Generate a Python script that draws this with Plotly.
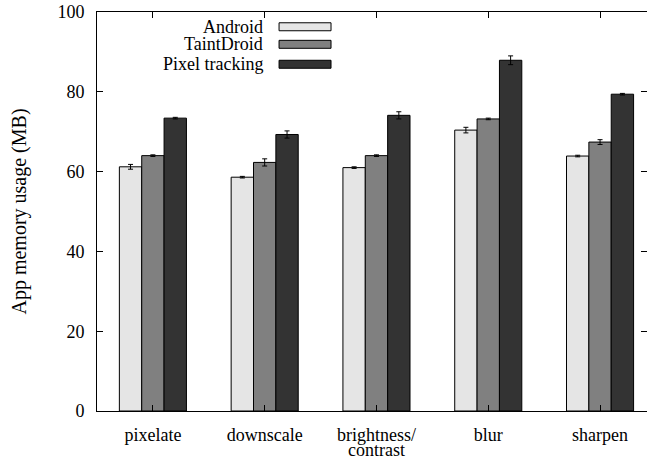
import plotly.graph_objects as go

categories = ["pixelate", "downscale", "brightness/\ncontrast", "blur", "sharpen"]
series_names = ["Android", "TaintDroid", "Pixel tracking"]
android = [61.2, 58.6, 61.0, 70.4, 63.9]
android_err = [0.6, 0.2, 0.2, 0.7, 0.2]
taintdroid = [64.0, 62.3, 64.0, 73.2, 67.4]
taintdroid_err = [0.2, 0.9, 0.2, 0.2, 0.6]
pixel = [73.4, 69.3, 74.1, 87.9, 79.4]
pixel_err = [0.2, 0.9, 0.9, 1.1, 0.2]
colors = ["#e5e5e5", "#808080", "#333333"]
y_ticks = [0, 20, 40, 60, 80, 100]

FONT = "Liberation Serif"
FS = 18
xs = list(range(len(categories)))
fig = go.Figure()
for name, vals, errs, col in zip(series_names, [android, taintdroid, pixel],
                                 [android_err, taintdroid_err, pixel_err], colors):
    fig.add_trace(go.Bar(
        x=xs, y=vals, name=name,
        marker=dict(color=col, line=dict(color="black", width=1)),
        error_y=dict(type="data", array=errs, visible=True, color="black",
                     thickness=1, width=2.5),
        showlegend=False,
    ))

first_lines = [c.split("\n")[0] for c in categories]

fig.update_layout(
    width=647, height=459,
    margin=dict(l=97, r=0, t=12, b=48),
    barmode="group", bargap=0.4, bargroupgap=0,
    plot_bgcolor="white", paper_bgcolor="white",
    font=dict(family=FONT, size=FS, color="black"),
    xaxis=dict(
        range=[-0.5, 4.42], tickmode="array",
        tickvals=xs, ticktext=first_lines,
        ticks="inside", ticklen=6, tickcolor="black", tickwidth=1,
        showline=True, linecolor="black", linewidth=1, mirror="ticks",
        showgrid=False, zeroline=False, ticklabelstandoff=7,
        tickfont=dict(family=FONT, size=FS), automargin=False,
    ),
    yaxis=dict(
        range=[0, 100], tickmode="array", tickvals=y_ticks,
        ticks="inside", ticklen=6, tickcolor="black", tickwidth=1,
        showline=True, linecolor="black", linewidth=1, mirror="ticks",
        showgrid=False, zeroline=False, ticklabelstandoff=8,
        tickfont=dict(family=FONT, size=FS), automargin=False,
        title=dict(text="App memory usage (MB)", standoff=25,
                   font=dict(family=FONT, size=20)),
    ),
)

# second lines of multi-line category labels (tighter line spacing than Plotly's default)
for xi, c in zip(xs, categories):
    parts = c.split("\n")
    if len(parts) > 1:
        fig.add_annotation(x=xi, xref="x", y=0, yref="paper", text=parts[1],
                           showarrow=False, yanchor="top", yshift=-27,
                           font=dict(family=FONT, size=FS))

# custom legend (text to the left of swatch)
legend_y = [0.963, 0.919, 0.869]
for name, col, yy in zip(series_names, colors, legend_y):
    fig.add_annotation(xref="paper", yref="paper", x=0.305, y=yy, text=name,
                       showarrow=False, xanchor="right", yanchor="middle",
                       font=dict(family=FONT, size=FS))
    fig.add_shape(type="rect", xref="paper", yref="paper",
                  x0=0.331, x1=0.4255, y0=yy - 0.01, y1=yy + 0.01,
                  fillcolor=col, line=dict(color="black", width=1))

fig.write_html("out.html")
